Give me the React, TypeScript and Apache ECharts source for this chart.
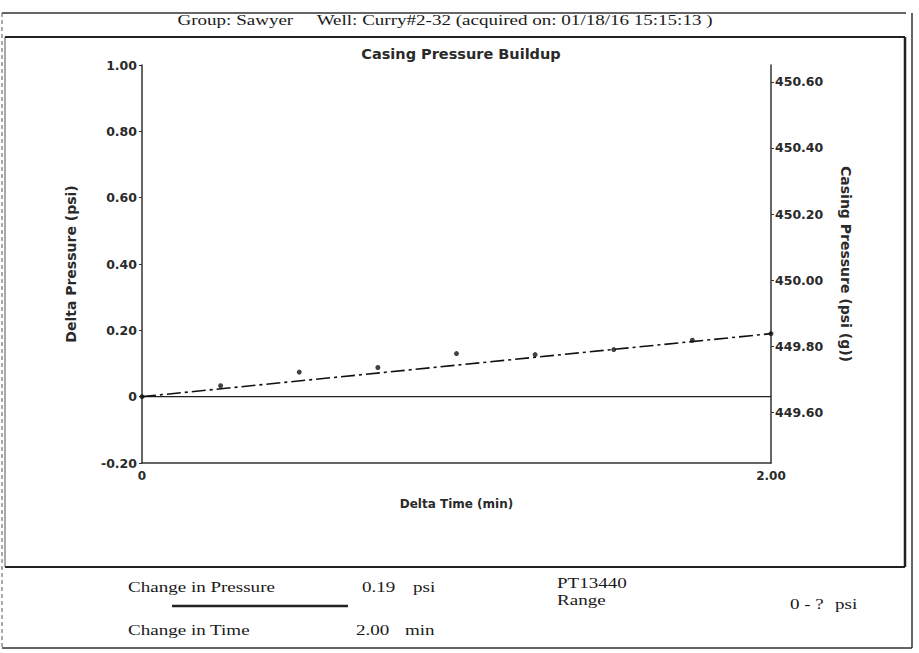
import React, { useEffect, useRef } from "react";
import * as echarts from "echarts";

const timeMin = [0, 0.25, 0.5, 0.75, 1.0, 1.25, 1.5, 1.75, 2.0];
const deltaPsi = [0, 0.033, 0.074, 0.088, 0.13, 0.127, 0.142, 0.17, 0.19];
const trendX = [0, 2.0];
const trendY = [0, 0.19];
const zeroX = [0, 2.0];
const zeroY = [0, 0];
const rightTicks = [449.6, 449.8, 450.0, 450.2, 450.4, 450.6];
const rightMin = 449.4455;
const rightMax = 450.6515;

const headerText = "Group: Sawyer     Well: Curry#2-32 (acquired on: 01/18/16 15:15:13 )";
const footer = {
  changeP: "Change in Pressure",
  changePVal: "0.19",
  changePUnit: "psi",
  changeT: "Change in Time",
  changeTVal: "2.00",
  changeTUnit: "min",
  sensor: "PT13440",
  range: "Range",
  rangeVal: "0 - ?",
  rangeUnit: "psi",
};

const serif = "'Liberation Serif', 'DejaVu Serif', serif";
const sans = "'DejaVu Sans', 'Liberation Sans', sans-serif";
const ink = "#1a1a1a";
const axisInk = "#2a2a2a";
const stretch = 1.27;

export default function App() {
  const ref = useRef<HTMLDivElement>(null);
  useEffect(() => {
    if (!ref.current) return;
    const chart = echarts.init(ref.current, undefined, { renderer: "svg" });
    const ft = (x: number, y: number, text: string, extra: any = {}) => ({
      type: "text",
      x,
      y,
      scaleX: stretch,
      style: { text, font: `15px ${serif}`, fill: ink, verticalAlign: "middle", ...extra },
    });
    chart.setOption({
      animation: false,
      backgroundColor: "#ffffff",
      title: {
        text: "Casing Pressure Buildup",
        left: 456,
        textAlign: "center",
        top: 41,
        textStyle: { fontFamily: sans, fontWeight: "bold", fontSize: 14.5, color: axisInk },
      },
      grid: { left: 142, right: 148, top: 65, bottom: 190, containLabel: false },
      xAxis: {
        type: "value",
        min: 0,
        max: 2,
        interval: 2,
        name: "Delta Time (min)",
        nameLocation: "middle",
        nameGap: 35,
        nameTextStyle: { fontFamily: sans, fontWeight: "bold", fontSize: 12, color: axisInk },
        axisLine: { show: true, onZero: false, lineStyle: { color: "#333", width: 1.5 } },
        axisTick: { show: false },
        splitLine: { show: false },
        axisLabel: {
          fontFamily: sans,
          fontWeight: "bold",
          fontSize: 12,
          color: axisInk,
          margin: 7,
          formatter: (v: number) => (v === 0 ? "0" : v.toFixed(2)),
        },
      },
      yAxis: [
        {
          type: "value",
          min: -0.2,
          max: 1.0,
          interval: 0.2,
          name: "Delta Pressure (psi)",
          nameLocation: "middle",
          nameRotate: 90,
          nameGap: 64,
          nameTextStyle: { fontFamily: sans, fontWeight: "bold", fontSize: 14, color: axisInk },
          axisLine: { show: true, onZero: false, lineStyle: { color: "#333", width: 1.5 } },
          axisTick: { show: true, length: 3, lineStyle: { color: "#333" } },
          splitLine: { show: false },
          axisLabel: {
            fontFamily: sans,
            fontWeight: "bold",
            fontSize: 12.5,
            color: axisInk,
            margin: 5,
            formatter: (v: number) => (Math.abs(v) < 1e-9 ? "0" : v.toFixed(2)),
          },
        },
        {
          type: "value",
          position: "right",
          min: rightMin,
          max: rightMax,
          name: "Casing Pressure (psi (g))",
          nameLocation: "middle",
          nameRotate: -90,
          nameGap: 68,
          nameTextStyle: { fontFamily: sans, fontWeight: "bold", fontSize: 14, color: axisInk },
          axisLine: { show: true, onZero: false, lineStyle: { color: "#333", width: 1.5 } },
          axisTick: { show: true, length: 3, customValues: rightTicks, lineStyle: { color: "#333" } },
          splitLine: { show: false },
          axisLabel: {
            fontFamily: sans,
            fontWeight: "bold",
            fontSize: 12.5,
            color: axisInk,
            margin: 4,
            customValues: rightTicks,
            formatter: (v: number) => v.toFixed(2),
          },
        },
      ],
      series: [
        {
          type: "line",
          data: zeroX.map((x, i) => [x, zeroY[i]]),
          showSymbol: false,
          symbol: "none",
          lineStyle: { color: "#222", width: 1.2 },
          silent: true,
          z: 1,
        },
        {
          type: "line",
          data: trendX.map((x, i) => [x, trendY[i]]),
          showSymbol: false,
          symbol: "none",
          lineStyle: { color: "#111", width: 1.6, type: [14, 4, 3, 4] },
          silent: true,
          z: 2,
        },
        {
          type: "scatter",
          data: timeMin.map((x, i) => [x, deltaPsi[i]]),
          symbol: "circle",
          symbolSize: 5,
          itemStyle: { color: "#111" },
          z: 3,
        },
      ],
      graphic: [
        // outer frame
        { type: "line", shape: { x1: 2, y1: 13, x2: 906, y2: 13 }, style: { stroke: "#333", lineWidth: 1.5 } },
        { type: "line", shape: { x1: 2, y1: 13, x2: 2, y2: 648 }, style: { stroke: "#555", lineWidth: 1, lineDash: [4, 3] } },
        { type: "line", shape: { x1: 2, y1: 648, x2: 912, y2: 648 }, style: { stroke: "#333", lineWidth: 1.5 } },
        { type: "line", shape: { x1: 912, y1: 13, x2: 912, y2: 648 }, style: { stroke: "#333", lineWidth: 1.5 } },
        // inner chart box
        { type: "line", shape: { x1: 5, y1: 37, x2: 905, y2: 37 }, style: { stroke: "#222", lineWidth: 2 } },
        { type: "line", shape: { x1: 905, y1: 37, x2: 905, y2: 567 }, style: { stroke: "#222", lineWidth: 2.5 } },
        { type: "line", shape: { x1: 5, y1: 567, x2: 905, y2: 567 }, style: { stroke: "#222", lineWidth: 2 } },
        { type: "line", shape: { x1: 5, y1: 37, x2: 5, y2: 567 }, style: { stroke: "#555", lineWidth: 1 } },
        // header
        {
          type: "text",
          x: 445,
          y: 20,
          scaleX: stretch,
          style: { text: headerText, font: `15px ${serif}`, fill: ink, align: "center", verticalAlign: "middle" },
        },
        // footer
        ft(128, 587, footer.changeP),
        ft(362, 587, footer.changePVal),
        ft(413, 587, footer.changePUnit),
        ft(557, 583, footer.sensor),
        ft(557, 600, footer.range),
        ft(790, 604, footer.rangeVal),
        ft(835, 604, footer.rangeUnit),
        ft(128, 630, footer.changeT),
        ft(356, 630, footer.changeTVal),
        ft(405, 630, footer.changeTUnit),
        { type: "line", shape: { x1: 172, y1: 606, x2: 348, y2: 606 }, style: { stroke: "#222", lineWidth: 2.5 } },
      ],
    });
    return () => chart.dispose();
  }, []);
  return (
    <div
      ref={ref}
      style={{ position: "fixed", left: 0, top: 0, width: 919, height: 653, background: "#fff" }}
    />
  );
}
